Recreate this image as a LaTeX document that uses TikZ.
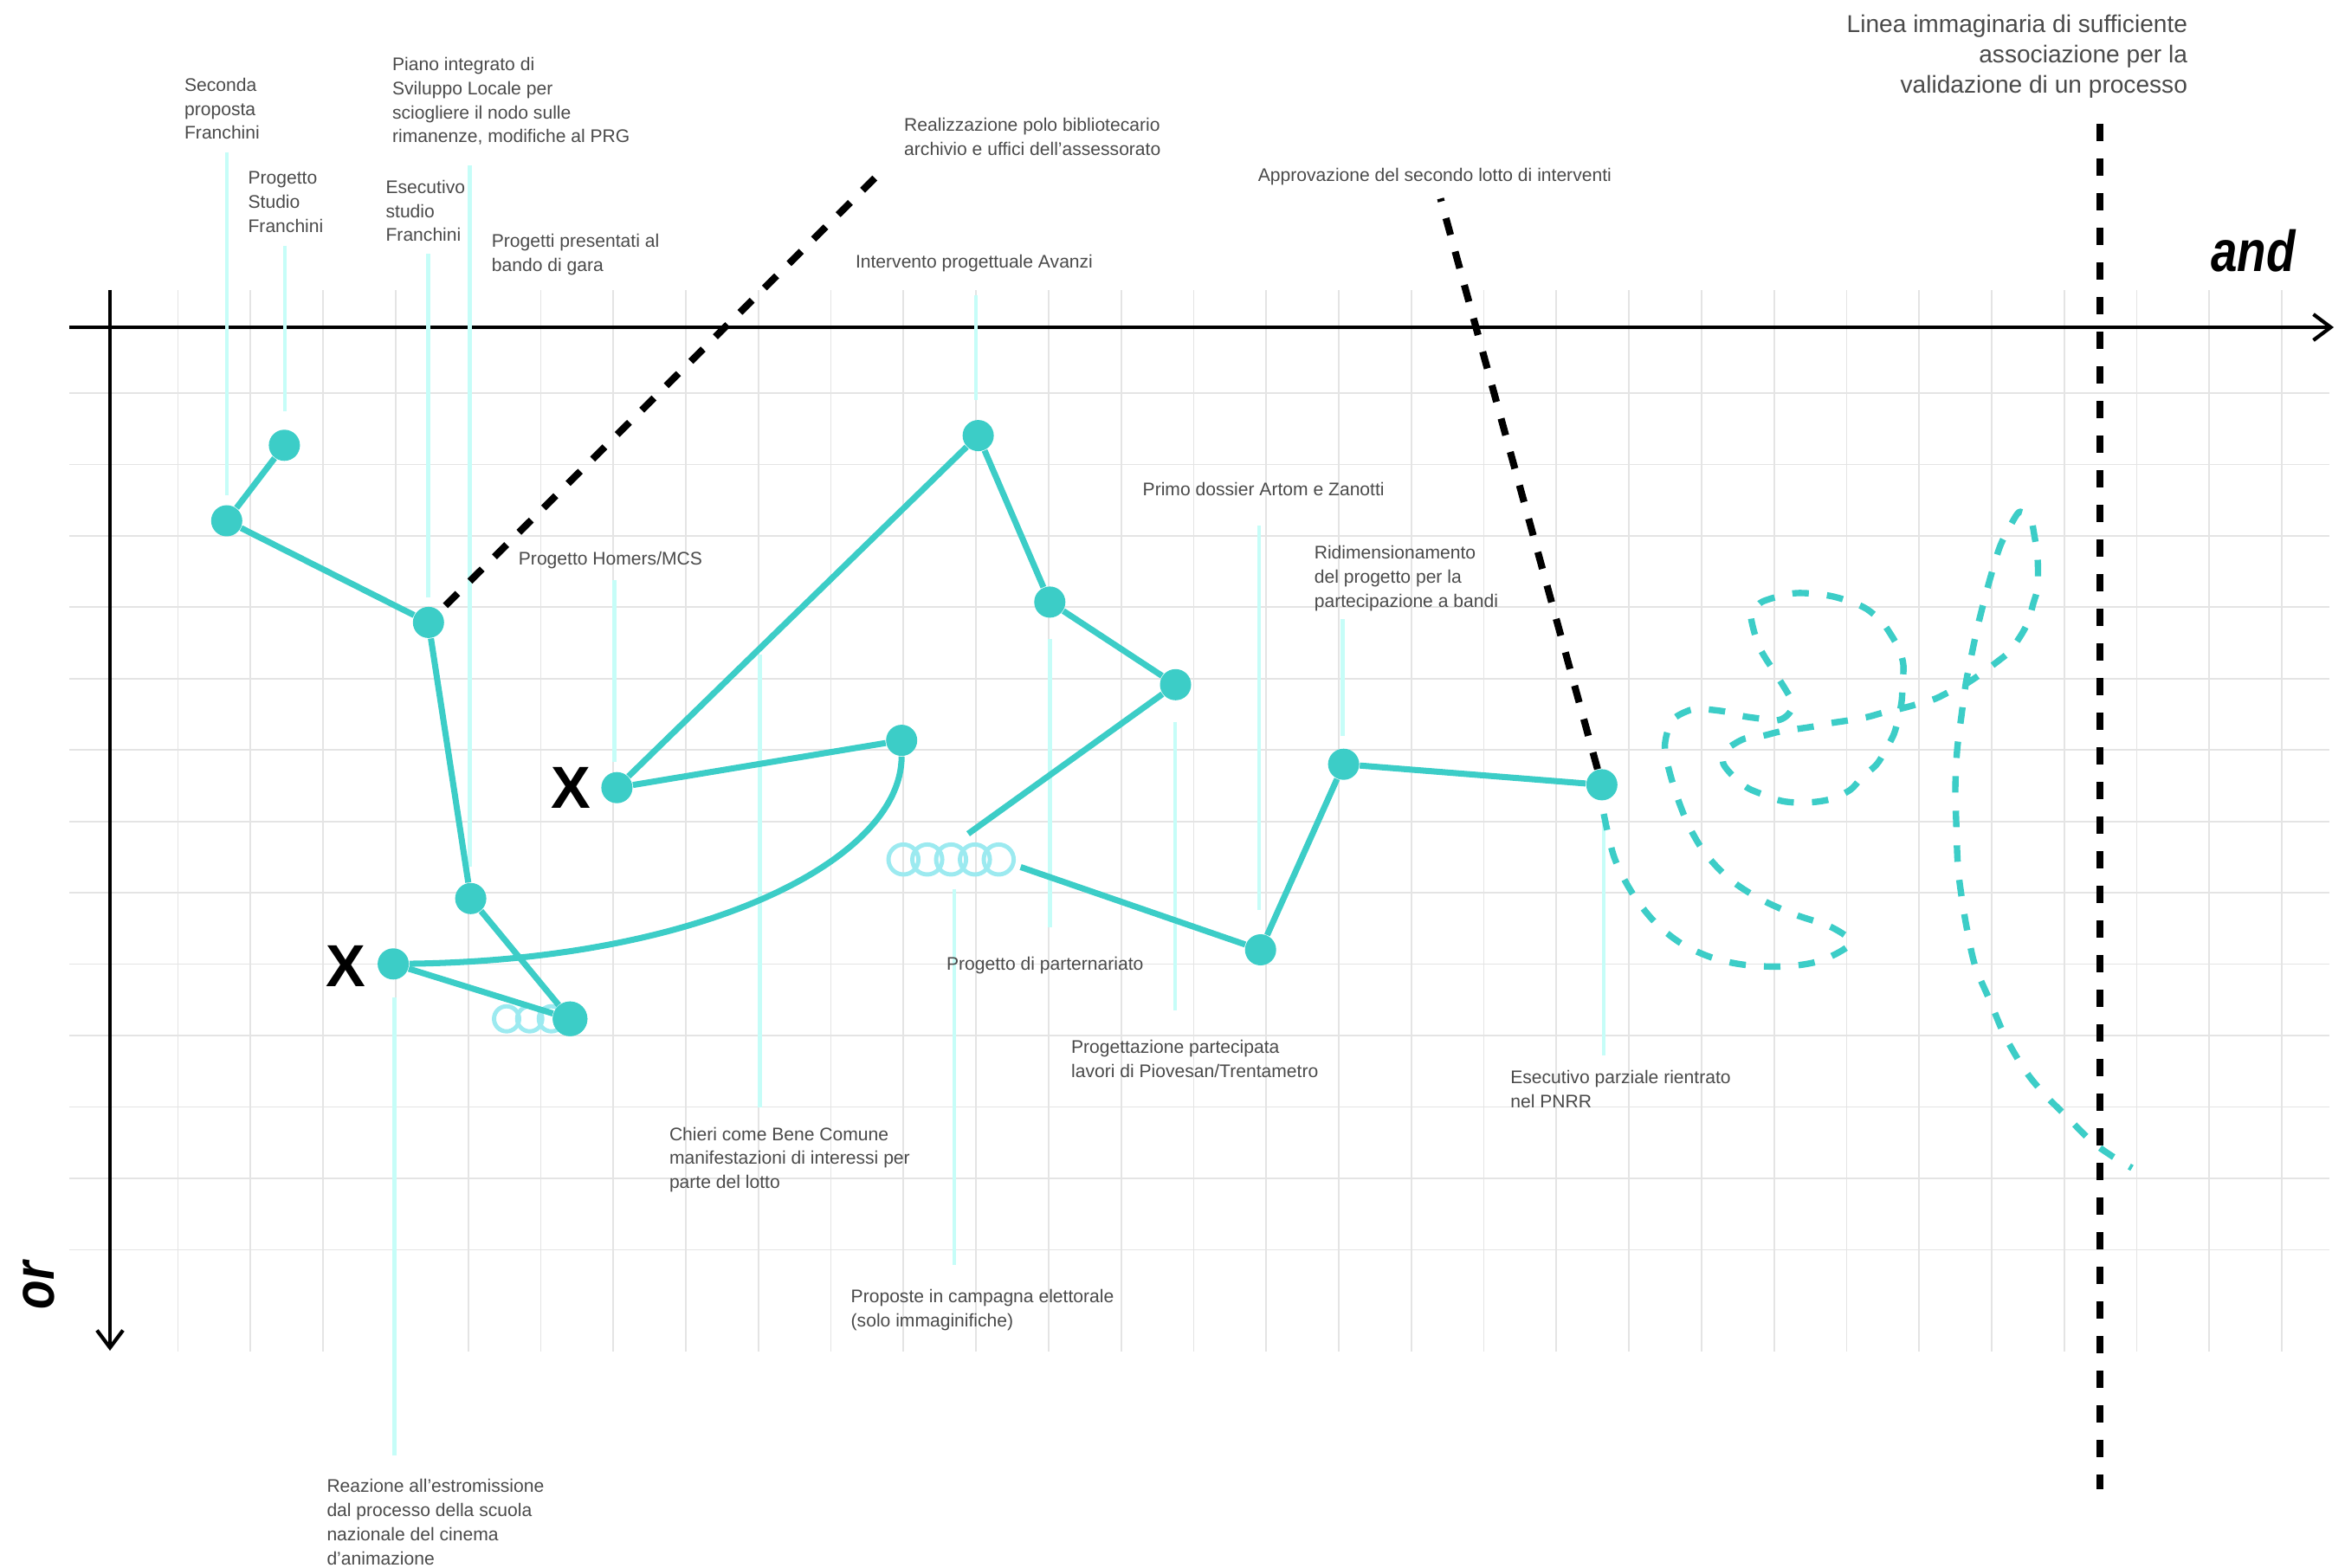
\documentclass[tikz,border=0pt]{standalone}
\usepackage{fontspec}
\usepackage{graphicx}
\setmainfont{Liberation Sans}
\usetikzlibrary{arrows.meta}
\definecolor{tealdot}{HTML}{3CCDC7}
\definecolor{ringcol}{HTML}{9CEAF0}
\definecolor{leadcol}{HTML}{C6FDF8}
\definecolor{gridcol}{HTML}{E4E4E4}
\definecolor{textcol}{HTML}{4A4A4A}
\tikzset{
  dot/.style={circle, fill=tealdot, inner sep=0pt, minimum size=0.36cm},
  ring/.style={circle, draw=ringcol, line width=1.4pt, inner sep=0pt, minimum size=0.346cm},
  sring/.style={ring, minimum size=0.29cm},
  link/.style={tealdot, line width=2pt},
  lead/.style={leadcol, line width=1.3pt},
  bdash/.style={line width=2.3pt, dash pattern=on 0.2cm off 0.2cm},
  tdash/.style={tealdot, line width=2.1pt, dash pattern=on 0.19cm off 0.21cm},
  axis/.style={line width=1.2pt, -{Straight Barb[length=2mm,width=3mm]}},
  lbl/.style={anchor=north west, inner sep=0pt, align=left, text=textcol,
    font=\fontsize{6}{7.9}\selectfont},
  xmark/.style={anchor=base, inner sep=0pt, font=\fontsize{19.5}{20}\selectfont\bfseries},
  axlbl/.style={anchor=base, inner sep=0pt, font=\fontsize{19}{20}\selectfont\bfseries\itshape}
}

\begin{document}
\begin{tikzpicture}[x=1cm, y=-1cm]
  \useasboundingbox (0,0) rectangle (27.08,18.11);
  % grid
  \foreach \i in {0,...,29}
    \draw[gridcol, line width=0.5pt] ({2.055+0.8378*\i},3.35) -- ({2.055+0.8378*\i},15.61);
  \foreach \j in {0,...,12}
    \draw[gridcol, line width=0.5pt] (0.80,{4.54+0.8245*\j}) -- (26.90,{4.54+0.8245*\j});
  % axes
  \draw[axis] (0.80,3.78) -- (26.95,3.78);
  \draw[axis] (1.27,3.35) -- (1.27,15.60);
  \node[axlbl] (and) at (26.02,3.133) {\scalebox{0.82}[1]{and}};
  \node[axlbl, rotate=90] (or) at (0.625,14.85) {\scalebox{0.82}[1]{or}};
  % leaders
  \foreach \x/\a/\b in {2.618/1.757/5.724, 3.29/2.84/4.755, 4.943/2.933/6.898,
      5.425/1.907/10.01, 7.095/6.704/8.80, 8.775/7.56/12.786, 11.02/10.265/14.61,
      4.553/11.515/16.81, 11.268/3.407/4.62, 12.123/7.383/10.714, 13.57/8.337/11.668,
      14.54/6.07/10.51, 15.504/7.153/8.505, 18.521/9.408/12.192}
    \draw[lead] (\x,\a) -- (\x,\b);

  \node[dot] (A) at (3.284,5.143) {};
  \node[dot] (B) at (2.618,6.015) {};
  \node[dot] (C) at (4.948,7.189) {};
  \node[dot] (D) at (5.436,10.378) {};
  \node[dot] (E) at (4.541,11.133) {};
  \node[dot, minimum size=0.40cm] (F) at (6.583,11.767) {};
  \node[dot] (G) at (7.124,9.097) {};
  \node[dot] (H) at (11.296,5.031) {};
  \node[dot] (I) at (12.123,6.954) {};
  \node[dot] (J) at (13.575,7.908) {};
  \node[dot] (K) at (10.412,8.551) {};
  \node[dot] (L) at (14.557,10.97) {};
  \node[dot] (M) at (15.516,8.827) {};
  \node[dot] (N) at (18.498,9.064) {};
  \foreach \k in {1,...,5}
    \node[ring] (r\k) at ({10.433+0.275*(\k-1)},9.927) {};
  \node[sring] (q1) at (5.85,11.767) {};
  \node[sring] (q2) at (6.117,11.767) {};
  \node[sring] (q3) at (6.367,11.767) {};
  \coordinate (j0) at (11.18,9.63);

  \draw[link]
  (B) -- (A)
  (B) -- (C)
  (C) -- (D)
  (D) -- (F)
  (E) -- (F)
  (G) -- (K)
  (G) -- (H)
  (H) -- (I)
  (I) -- (J)
  (J) -- (j0)
  (L) -- (M)
  (M) -- (N);
  \draw[link, shorten <=2pt] (r5) -- (L);
  \draw[link] (E) .. controls (8.12,11.09) and (10.41,9.93) .. (K);
  \node[dot, minimum size=0.40cm] at (F) {};

  \node[xmark] (x1) at (6.593,9.337) {X};
  \node[xmark] (x2) at (3.993,11.398) {X};

  % dashed lines
  \coordinate (p1) at (10.19,1.97);
  \coordinate (p2) at (16.635,2.293);
  \coordinate (v1) at (24.25,1.43);
  \coordinate (v2) at (24.25,17.2);
  \draw[bdash, shorten <=2.5pt] (C) -- (p1);
  \draw[bdash] (N) -- (p2);
  \draw[bdash] (v1) -- (v2);
  \draw[tdash] plot[smooth, tension=0.55] coordinates {
    (18.52,9.40) (18.64,9.90) (18.84,10.30) (19.10,10.64) (19.42,10.90) (19.80,11.07)
    (20.20,11.15) (20.64,11.16) (21.01,11.10) (21.30,10.96) (21.37,10.86) (21.13,10.70)
    (20.72,10.56) (20.32,10.38) (19.97,10.15) (19.68,9.84) (19.48,9.49) (19.33,9.09)
    (19.23,8.69) (19.25,8.47) (19.33,8.30) (19.52,8.20) (19.67,8.19) (19.93,8.22)
    (20.12,8.27) (20.33,8.30) (20.52,8.32) (20.63,8.27) (20.70,8.17) (20.68,8.07)
    (20.53,7.82) (20.32,7.48) (20.22,7.13) (20.27,7.03) (20.35,6.95) (20.57,6.88)
    (20.75,6.85) (20.98,6.86) (21.17,6.89) (21.37,6.95) (21.55,7.03) (21.72,7.17)
    (21.83,7.32) (21.93,7.50) (21.98,7.68) (21.97,7.90) (21.96,8.10) (21.92,8.30)
    (21.87,8.48) (21.77,8.67) (21.67,8.83) (21.50,8.98) (21.37,9.12) (21.17,9.22)
    (20.98,9.26) (20.77,9.27) (20.57,9.25) (20.37,9.18) (20.18,9.10) (20.02,8.97)
    (19.90,8.82) (19.92,8.70) (19.97,8.63) (20.15,8.53) (20.35,8.50) (20.55,8.45)
    (20.75,8.42) (20.95,8.39) (21.15,8.35) (21.35,8.32) (21.57,8.28) (21.75,8.23)
    (21.97,8.18) (22.15,8.13) (22.35,8.07) (22.53,7.98) (22.70,7.90) (22.88,7.78)
    (23.08,7.63) (23.20,7.53) (23.33,7.35) (23.42,7.18) (23.48,6.97) (23.53,6.78)
    (23.53,6.45) (23.49,6.17) (23.45,5.99) (23.36,5.92) (23.30,5.93) (23.20,6.10)
    (23.10,6.30) (23.02,6.55) (22.93,6.87) (22.83,7.27) (22.75,7.65) (22.70,7.90)
    (22.65,8.27) (22.60,8.67) (22.58,9.10) (22.59,9.49) (22.61,10.01) (22.66,10.41)
    (22.72,10.76) (22.81,11.16) (22.98,11.56) (23.15,11.96) (23.39,12.37) (23.62,12.65)
    (23.85,12.88) (24.14,13.17) (24.37,13.34) (24.62,13.49)};

  % labels
  \node[lbl] (t1) at (2.124,0.893) {Seconda\\proposta\\Franchini};
  \node[lbl] (t2) at (2.859,1.973) {Progetto\\Studio\\Franchini};
  \node[lbl] (t3) at (4.524,0.657) {Piano integrato di\\Sviluppo Locale per\\sciogliere il nodo sulle\\rimanenze, modifiche al PRG};
  \node[lbl] (t4) at (4.449,2.073) {Esecutivo\\studio\\Franchini};
  \node[lbl] (t5) at (5.672,2.70) {Progetti presentati al\\bando di gara};
  \node[lbl] (t6) at (10.435,1.36) {Realizzazione polo bibliotecario\\archivio e uffici dell’assessorato};
  \node[lbl] (t7) at (14.522,1.933) {Approvazione del secondo lotto di interventi};
  \node[lbl] (t8) at (9.873,2.933) {Intervento progettuale Avanzi};
  \node[lbl] (t9) at (5.982,6.362) {Progetto Homers/MCS};
  \node[lbl] (t10) at (13.19,5.561) {Primo dossier Artom e Zanotti};
  \node[lbl] (t11) at (15.171,6.296) {Ridimensionamento\\del progetto per la\\partecipazione a bandi};
  \node[lbl] (t12) at (10.923,11.046) {Progetto di parternariato};
  \node[lbl] (t13) at (12.364,12.01) {Progettazione partecipata\\lavori di Piovesan/Trentametro};
  \node[lbl] (t14) at (17.436,12.36) {Esecutivo parziale rientrato\\nel PNRR};
  \node[lbl] (t15) at (7.723,13.012) {Chieri come Bene Comune\\manifestazioni di interessi per\\parte del lotto};
  \node[lbl] (t16) at (9.82,14.89) {Proposte in campagna elettorale\\(solo immaginifiche)};
  \node[lbl] (t17) at (3.768,17.08) {Reazione all’estromissione\\dal processo della scuola\\nazionale del cinema\\d’animazione};
  \node[lbl, anchor=north east, align=right, font=\fontsize{8}{9.95}\selectfont] (t18) at (25.267,0.167)
    {Linea immaginaria di sufficiente\\associazione per la\\validazione di un processo};
\end{tikzpicture}
\end{document}
